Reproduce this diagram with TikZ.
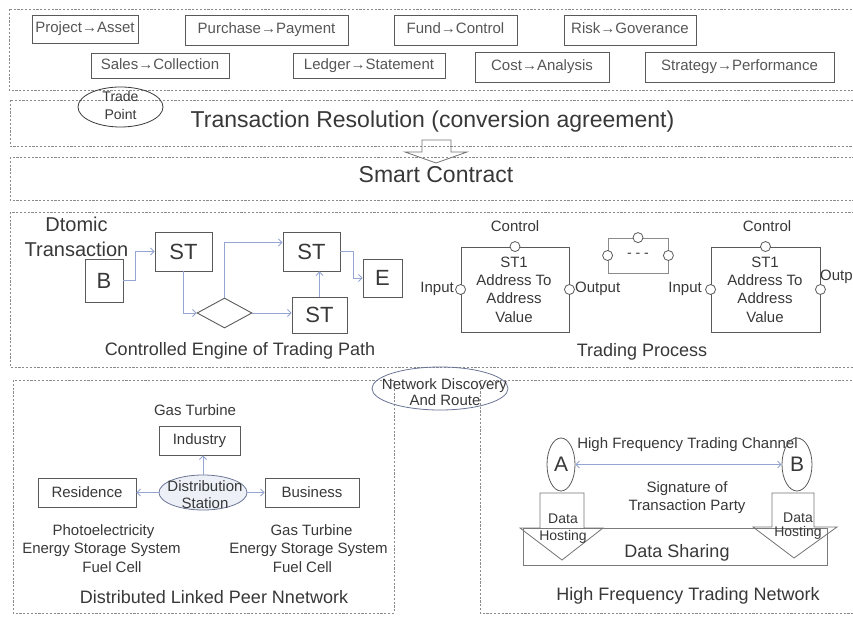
\documentclass[tikz,border=0pt]{standalone}
\usepackage{fontspec}
\setmainfont{Liberation Sans}
\usetikzlibrary{arrows.meta,shapes.geometric,calc}
\definecolor{txt}{HTML}{383838}
\definecolor{boxline}{HTML}{5A5A5A}
\definecolor{conn}{HTML}{95A5D2}
\definecolor{frm}{HTML}{8A8A8A}
\definecolor{ellline}{HTML}{6A7596}
\definecolor{ellfill}{HTML}{EDF0F7}
\begin{document}
\begin{tikzpicture}[x=1pt,y=-1pt,
  every node/.style={text=txt,inner sep=0pt,font=\fontsize{15}{18.3}\selectfont},
  frame/.style={draw=frm,line width=0.7pt,dash pattern=on 2.2pt off 1.6pt},
  topbox/.style={draw=boxline,line width=0.9pt,text=txt!85,text height=10.7pt,text depth=3.1pt},
  blk/.style={draw=boxline,line width=0.9pt},
  port/.style={circle,draw=boxline,fill=white,line width=0.8pt,minimum size=10pt},
  conn/.style={draw=conn,line width=0.8pt,-{Straight Barb[length=3.5pt,width=7pt]}},
  bigtxt/.style={font=\fontsize{23}{27}\selectfont},
  captxt/.style={font=\fontsize{18}{21}\selectfont},
  sttxt/.style={font=\fontsize{22}{26}\selectfont},
  smalltxt/.style={font=\fontsize{14}{17}\selectfont},
  hollow/.style={draw=boxline!85,line width=0.8pt,line join=miter}
]
\useasboundingbox (0,0) rectangle (853,617);

% frames
\draw[frame] (9,9) rectangle (870,90);
\draw[frame] (10,100) rectangle (870,146);
\draw[frame] (10,157) rectangle (870,200);
\draw[frame] (10,212) rectangle (870,367);
\draw[frame] (13,380) rectangle (394,613);
\draw[frame] (480,380) rectangle (870,613);

% top boxes
\node[topbox,minimum width=106pt,minimum height=28pt] (pa) at (85,29) {Project→Asset};
\node[topbox,minimum width=163pt,minimum height=30pt] (pp) at (266.5,30) {Purchase→Payment};
\node[topbox,minimum width=123pt,minimum height=30pt] (fc) at (455.5,30) {Fund→Control};
\node[topbox,minimum width=132pt,minimum height=30pt] (rg) at (630,30) {Risk→Goverance};
\node[topbox,minimum width=138pt,minimum height=25pt] (scol) at (160,65.5) {Sales→Collection};
\node[topbox,minimum width=152pt,minimum height=25pt] (ls) at (369,65.5) {Ledger→Statement};
\node[topbox,minimum width=134pt,minimum height=30pt] (ca) at (542,67) {Cost→Analysis};
\node[topbox,minimum width=189pt,minimum height=30pt] (sp) at (739.5,67) {Strategy→Performance};

% trade point
\node[ellipse,draw=txt,line width=0.8pt,minimum width=85pt,minimum height=40pt] (tpe) at (120.5,107) {};
\node[align=center,font=\fontsize{14}{18}\selectfont] (tpt) at (120.5,105) {Trade\\Point};

\node[bigtxt,anchor=base] (tr) at (432.5,128) {Transaction Resolution (conversion agreement)};
\node[bigtxt,anchor=base] (sc) at (436,183) {Smart Contract};
\draw[hollow] (422,140) -- (451,140) -- (451,152) -- (467,152) -- (436,163) -- (405,152) -- (422,152) -- cycle;

% controlled engine
\node[font=\fontsize{20}{25}\selectfont,anchor=base] (dt1) at (76.5,232) {Dtomic};
\node[font=\fontsize{20}{25}\selectfont,anchor=base] (dt2) at (76.5,257) {Transaction};
\node[blk,sttxt,minimum width=38pt,minimum height=43pt] (B) at (104,280.5) {B};
\node[blk,sttxt,minimum width=57pt,minimum height=39pt] (st1) at (183.5,251.5) {ST};
\node[diamond,blk,minimum width=55pt,minimum height=30pt] (dm) at (224.5,313) {};
\node[blk,sttxt,minimum width=57pt,minimum height=39pt] (st2) at (311.5,251.5) {ST};
\node[blk,sttxt,minimum width=55pt,minimum height=36pt] (st3) at (319.5,315) {ST};
\node[blk,sttxt,minimum width=39pt,minimum height=38pt] (E) at (382.5,278) {E};
\draw[conn] (B.east) -- ++(12,0) |- (st1.west);
\draw[conn] (st1.south) |- (dm.west);
\draw[conn] (dm.north) |- ([yshift=9pt]st2.west);
\draw[conn] (dm.east) -- (dm.east -| st3.west);
\draw[conn] (st3.north) -- (st3.north |- st2.south);
\draw[conn] (st2.east) -- ++(13,0) |- (E.west);
\node[captxt,anchor=base] (cetp) at (240,355) {Controlled Engine of Trading Path};

% trading process
\node[blk,minimum width=108pt,minimum height=85pt] (tp1) at (515,289.5) {};
\node[align=center,anchor=base] (tp1t) at (514,322) {ST1\\Address To\\Address\\Value};
\node[anchor=base] (ctl1) at (515,232) {Control};
\node[port] (c1) at (tp1.north) {};
\node[port] (i1) at (tp1.west) {};
\node[port] (o1) at (tp1.east) {};
\node[anchor=base east] (in1) at (454,292) {Input};
\node[anchor=base west] (out1) at (575,292) {Output};

\node[draw=boxline!70,line width=0.8pt,minimum width=60pt,minimum height=35pt,smalltxt] (mb) at (638,255.5) {- - -};
\node[port] (mbt) at (mb.north) {};
\node[port] (mbl) at (mb.west) {};
\node[port] (mbr) at (mb.east) {};

\node[blk,minimum width=109pt,minimum height=85pt] (tp2) at (765.5,289.5) {};
\node[align=center,anchor=base] (tp2t) at (765,322) {ST1\\Address To\\Address\\Value};
\node[anchor=base] (ctl2) at (767,232) {Control};
\node[port] (c2) at (tp2.north) {};
\node[port] (i2) at (tp2.west) {};
\node[port] (o2) at (tp2.east) {};
\node[anchor=base east] (in2) at (702,292) {Input};
\node[anchor=base west] (out2) at (820,281) {Output};
\node[captxt,anchor=base] (tpr) at (642,356) {Trading Process};

% network discovery
\node[ellipse,draw=ellline,line width=0.8pt,minimum width=136pt,minimum height=43pt] (nde) at (440,388.5) {};
\node[anchor=base] (nd1) at (444.5,389) {Network Discovery};
\node[anchor=base] (nd2) at (445,405) {And Route};

% distributed network
\node[anchor=base] (gt) at (195,415) {Gas Turbine};
\node[blk,minimum width=81pt,minimum height=29pt] (ind) at (199.5,440.5) {Industry};
\node[ellipse,draw=ellline,fill=ellfill,line width=0.8pt,minimum width=88pt,minimum height=35pt] (dse) at (203,492.5) {};
\node[anchor=base] (ds1) at (205,491) {Distribution};
\node[anchor=base] (ds2) at (205,508) {Station};
\node[blk,minimum width=98pt,minimum height=29pt] (res) at (87,492.5) {Residence};
\node[blk,minimum width=94pt,minimum height=29pt] (bus) at (312,492.5) {Business};
\draw[conn] (dse.north) -- (dse.north |- ind.south);
\draw[conn] (dse.west) -- (res.east);
\draw[conn] (dse.east) -- (bus.west);
\node[anchor=base] (l1) at (103.5,535) {Photoelectricity};
\node[anchor=base] (l2) at (101.5,553) {Energy Storage System};
\node[anchor=base] (l3) at (112,572) {Fuel Cell};
\node[anchor=base] (r1) at (311.5,535) {Gas Turbine};
\node[anchor=base] (r2) at (308.5,553) {Energy Storage System};
\node[anchor=base] (r3) at (302.5,572) {Fuel Cell};
\node[captxt,anchor=base] (dlpn) at (214,603) {Distributed Linked Peer Nnetwork};

% high frequency trading
\node[anchor=base] (hftc) at (687.5,448) {High Frequency Trading Channel};
\node[ellipse,draw=boxline,line width=0.8pt,minimum width=28pt,minimum height=53pt,font=\fontsize{21}{25}\selectfont] (A) at (561,464.5) {A};
\node[ellipse,draw=boxline,line width=0.8pt,minimum width=30pt,minimum height=53pt,font=\fontsize{21}{25}\selectfont] (Bn) at (797,464.5) {B};
\draw[draw=conn,line width=0.8pt,{Straight Barb[length=3.5pt,width=7pt]}-{Straight Barb[length=3.5pt,width=7pt]}] (A.east) -- (Bn.west);
\node[anchor=base] (sig1) at (687,492) {Signature of};
\node[anchor=base] (sig2) at (687,510) {Transaction Party};
\node[draw=boxline!80,line width=0.8pt,minimum width=304pt,minimum height=37pt] (dsh) at (675,546.5) {};
\draw[hollow] (540,493) -- (584,493) -- (584,528) -- (603,528) -- (562,560) -- (520,528) -- (540,528) -- cycle;
\draw[hollow] (772,493) -- (814,493) -- (814,527) -- (837,527) -- (794,558) -- (753,527) -- (772,527) -- cycle;
\node[captxt,anchor=base] (dsht) at (677,557) {Data Sharing};
\node[smalltxt,anchor=base] (dh1) at (563,523) {Data};
\node[smalltxt,anchor=base] (dh2) at (563,540) {Hosting};
\node[smalltxt,anchor=base] (dh3) at (798,522) {Data};
\node[smalltxt,anchor=base] (dh4) at (798,536) {Hosting};
\node[captxt,anchor=base] (hftn) at (688,600) {High Frequency Trading Network};
\end{tikzpicture}
\end{document}
